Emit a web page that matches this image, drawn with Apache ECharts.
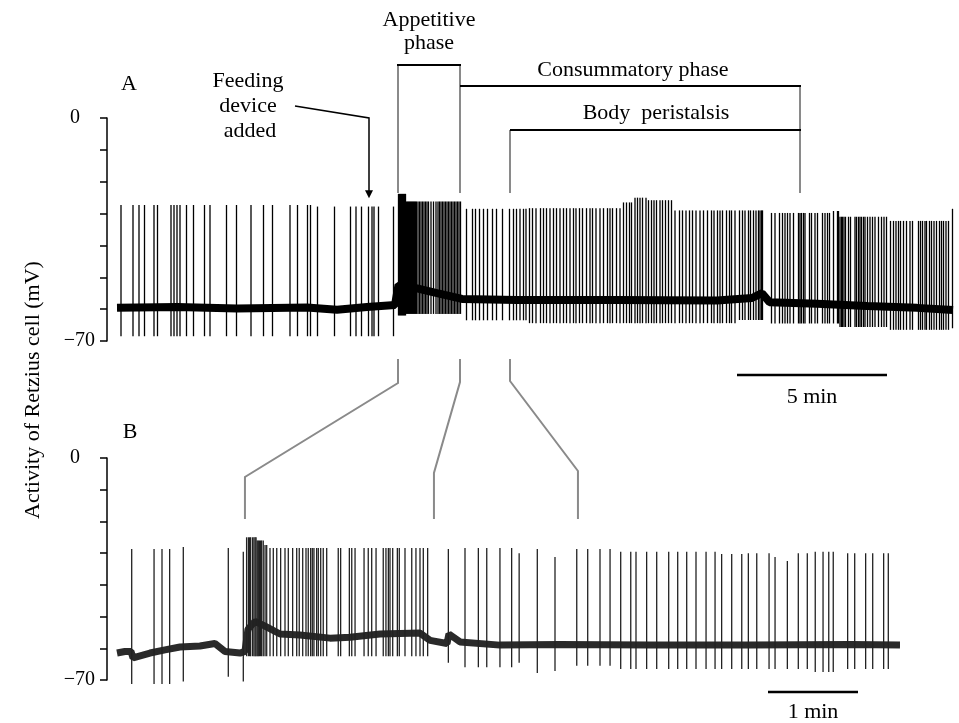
<!DOCTYPE html>
<html><head><meta charset="utf-8">
<script src="https://cdn.jsdelivr.net/npm/echarts/dist/echarts.min.js"></script>
<style>html,body{margin:0;padding:0;background:#fff}#c{width:959px;height:723px}</style>
</head><body><div id="c"></div>
<script>
// ---------- DATA (times in seconds, voltages in mV) ----------
// Panel A: spike times
const spikeTimesA = [8,32,44,55,74,81,108,114,120,126,139,153,175,186,219,239,268,293,311,346,361,381,387,
 401,435,467,478,489,503,510,514,523,553,
 563,565,567,569,571,573,575,577,579,581,583,585,587,589,591,593,595,597,599,602,605,608,611,614,617,620,623,628,633,638,642,645,648,651,654,657,660,663,666,669,672,675,678,681,684,687,
 699,711,717,725,733,741,751,759,771,785,793,799,806,813,
 818,825,831,838,847,853,859,866,873,879,886,893,899,906,913,918,925,931,939,946,951,958,966,973,981,986,991,999,1006,1013,1019,1025,1029,1036,1041,1046,1051,1058,1063,1069,1074,1079,1086,1091,1097,1103,1109,1116,1125,1131,1138,1145,1151,1158,1166,1173,1181,1189,1194,1201,1206,1211,1219,1225,1229,1236,
 1245,1251,1256,1263,1267,1273,1278,1283,1286,1289,1291,1309,1316,1325,1331,1336,1341,1346,1353,1363,1366,1369,1373,1376,1385,1389,1396,1401,1411,1416,1421,1425,1433,1441,1443,1446,1449,1451,1454,1457,1463,1467,1476,1479,1483,1486,1489,1493,1496,1501,1506,1511,1516,1523,1529,1534,1539,1547,1553,1558,1563,1567,1573,1579,1586,1591,1603,1607,1611,1616,1619,1625,1629,1634,1639,1645,1649,1653,1658,1663,1671];
// Panel A: spike peak / trough levels, by segment [start time, peak, trough]
const spikeLevelsA = [[0,-27.3,-68.5],[390,-27.8,-68.5],[560,-23.8,-62],[578,-26.2,-61.5],[690,-28.5,-63.5],[820,-28.3,-64.4],
 [1010,-26.5,-64.4],[1030,-25,-64.4],[1060,-25.8,-64.4],[1115,-29,-64.4],[1240,-29,-63.4],[1300,-29.8,-64.5],
 [1430,-29.2,-64.5],[1445,-31,-65.6],[1540,-32.3,-66.5],[1670,-28.5,-66]];
// Panel A: resting membrane potential
const baselineA = [[0,-59.6],[120,-59.3],[240,-59.8],[380,-59.5],[440,-60.2],[500,-59.3],[556,-58.7],[563,-52.4],[600,-53.5],
 [640,-55],[690,-56.8],[800,-57.1],[1000,-57.1],[1200,-57.3],[1270,-56.5],[1290,-55],[1305,-57.8],[1400,-58.3],
 [1500,-59],[1600,-59.6],[1672,-60.3]];
// Panel B (expanded time base)
const spikeTimesB = [9.8,24.7,30,35.1,44.2,74.2,84.2,
 86.4,87.6,88.4,89.1,90.4,91.3,92.1,92.7,93.5,94.2,94.9,95.7,96.4,97.5,98.7,99.8,
 102,104.2,106.5,109.1,112,114.2,117.1,119.8,121.5,123.8,126,127.5,129.1,130.2,131.3,133.1,134.2,135.8,137.5,139.8,
 147.5,149.1,154.9,156.5,158.7,164.7,167.5,169.8,172.7,177.5,179.3,180.9,182,183.8,186.9,188.2,192,196.5,199.3,202,204.2,207.1,
 220.9,232,240.9,246.5,255.3,263.1,268.1,280.2,292,306.5,313.8,322,328.7,335.8,342.5,346,353.1,359.8,367.8,373.8,379.8,
 386,392.7,398.7,403.1,409.8,416.5,420.9,426.5,434.7,438.7,446.9,454.2,460.2,465.5,470.7,474.5,477.5,487.1,491.8,499.1,503.8,511.1,514.2];
const spikeLevelsB = [[0,-28.7,-71.3],[40,-28.1,-70.5],[70,-28.4,-69],[80,-29.6,-70.5],[85.5,-25,-62.5],[93,-26,-62.5],
 [98,-27.4,-62.5],[101,-28.4,-62.5],[215,-28.7,-64.6],[230,-28.4,-66],[265,-30,-64.6],[275,-28.7,-67.8],[290,-31.2,-67.2],
 [300,-28.7,-65.5],[330,-29.6,-66.5],[400,-30.3,-66.5],[420,-30,-66.5],[436,-31.2,-66.5],[445,-32.5,-66.5],[450,-30,-66.5],
 [465,-29.6,-67.5],[485,-30,-66.5],[515,-30.3,-66]];
const baselineB = [[0,-61.5],[5.3,-61],[9.3,-61],[10.7,-63],[22,-61.5],[32,-60.5],[42,-59.6],[55.3,-59.3],[65.3,-58.5],
 [72,-61],[82,-61.5],[85.3,-61],[87.3,-54],[92,-51.5],[98.7,-53],[108.7,-55.5],[122,-55.8],[142,-56.8],[155.3,-56.5],
 [175.3,-55.5],[202,-55.2],[208.7,-57.5],[220,-58.5],[221.3,-55.5],[228.7,-58],[255.3,-59],[295.3,-58.8],[355.3,-59],
 [422,-59],[488.7,-58.8],[522,-59]];
// Events (s) on panel A and matching times on panel B
const phaseNamesA = ['Feeding device added','Appetitive phase','Consummatory phase','Body peristalsis','End'];
const phaseTimesA = [504, 562, 686, 786, 1366];
const zoomTimesA = [562, 686, 786];
const zoomTimesB = [85.3, 211.3, 307.3];
// Axis ticks and labels
const yTickValues = [0, -70];
const yTickLabels = ['0', '\u221270'];
const panelLabels = ['A', 'B'];
const scaleBarA = {start: 1240, length: 300, label: '5 min'};
const scaleBarB = {start: 434, length: 60, label: '1 min'};
const durationA = 1672, durationB = 522;

// ---------- CHART ----------
const FONT = 'Liberation Serif';
const chart = echarts.init(document.getElementById('c'));
function levelAt(levels, t){ let e = levels[0]; for (const k of levels){ if (k[0] <= t) e = k; else break; } return e; }
function spikeData(times, levels){ return times.map(t => { const e = levelAt(levels, t); return [t, e[1], e[2]]; }); }
function spikeRender(color){
  return function(params, api){
    const a = api.coord([api.value(0), api.value(1)]);
    const b = api.coord([api.value(0), api.value(2)]);
    return {type:'line', shape:{x1:a[0], y1:a[1], x2:b[0], y2:b[1]}, style:{stroke:color, lineWidth:1.3}};
  };
}
function yAxisCfg(gi){
  return {type:'value', gridIndex:gi, min:-70, max:0, interval:10, offset:10,
    axisLine:{show:true, onZero:false, lineStyle:{color:'#000', width:1.5}},
    axisTick:{show:true, length:7, lineStyle:{color:'#000', width:1.5}},
    splitLine:{show:false},
    axisLabel:{margin:12, fontFamily:FONT, fontSize:20, color:'#000',
      rich:{z:{fontFamily:FONT, fontSize:20, color:'#000', padding:[0,15,0,0]}},
      formatter: v => { const i = yTickValues.indexOf(v); if (i < 0) return ''; return v === 0 ? '{z|' + yTickLabels[i] + '}' : yTickLabels[i]; }}};
}
chart.setOption({
  animation:false,
  backgroundColor:'#fff',
  grid:[{left:117, top:118, width:836, height:223}, {left:117, top:458, width:783, height:222}],
  xAxis:[{type:'value', gridIndex:0, min:0, max:durationA, show:false},
         {type:'value', gridIndex:1, min:0, max:durationB, show:false}],
  yAxis:[yAxisCfg(0), yAxisCfg(1)],
  series:[
    {type:'line', xAxisIndex:0, yAxisIndex:0, data:baselineA, showSymbol:false, lineStyle:{color:'#000', width:8}, z:2},
    {type:'custom', xAxisIndex:0, yAxisIndex:0, data:spikeData(spikeTimesA, spikeLevelsA), encode:{x:0, y:[1,2]}, renderItem:spikeRender('#000'), z:3},
    {type:'line', xAxisIndex:1, yAxisIndex:1, data:baselineB, showSymbol:false, lineStyle:{color:'#2a2a2a', width:7}, z:2},
    {type:'custom', xAxisIndex:1, yAxisIndex:1, data:spikeData(spikeTimesB, spikeLevelsB), encode:{x:0, y:[1,2]}, renderItem:spikeRender('#222'), z:3}
  ]
});

// ---------- ANNOTATIONS ----------
const pA = (t, v) => chart.convertToPixel({gridIndex:0}, [t, v]);
const pB = (t, v) => chart.convertToPixel({gridIndex:1}, [t, v]);
function txt(x, y, s, size, rot){
  return {type:'text', x:x, y:y, rotation:rot || 0, z:10,
    style:{text:s, fontFamily:FONT, fontSize:size || 22, fill:'#000', align:'center', verticalAlign:'middle', textAlign:'center', textVerticalAlign:'middle'}};
}
function pl(points, color, w){ return {type:'polyline', z:9, shape:{points:points}, style:{stroke:color, lineWidth:w, fill:null}}; }
const GRAY = '#8a8a8a';
const xF = pA(phaseTimesA[0], 0)[0], xAp = pA(phaseTimesA[1], 0)[0], xCo = pA(phaseTimesA[2], 0)[0],
      xBo = pA(phaseTimesA[3], 0)[0], xEnd = pA(phaseTimesA[4], 0)[0];
const yZeroA = pA(0, 0)[1];
const yArrowEnd = pA(0, -25.2)[1];
const g = [];
// brackets
g.push(pl([[xAp,193],[xAp,65]], GRAY, 2));
g.push(pl([[xCo,193],[xCo,65]], GRAY, 2));
g.push(pl([[xBo,193],[xBo,130]], GRAY, 2));
g.push(pl([[xEnd,193],[xEnd,86]], GRAY, 2));
g.push(pl([[xAp-1,65],[xCo+1,65]], '#000', 2));
g.push(pl([[xCo,86],[xEnd+1,86]], '#000', 2));
g.push(pl([[xBo,130],[xEnd+1,130]], '#000', 2));
// texts
g.push(txt((xAp+xCo)/2, 20, 'Appetitive'));
g.push(txt((xAp+xCo)/2, 43, 'phase'));
g.push(txt(633, 70, 'Consummatory phase'));
g.push(txt(656, 113, 'Body  peristalsis'));
g.push(txt(248, 81, 'Feeding'));
g.push(txt(248, 106, 'device'));
g.push(txt(250, 131, 'added'));
g.push(txt(129, 84, panelLabels[0]));
g.push(txt(130, 432, panelLabels[1]));
g.push(txt(33, 390, 'Activity of Retzius cell (mV)', 22, Math.PI/2));
// feeding arrow
g.push(pl([[295,106],[xF,yZeroA],[xF,yArrowEnd-6]], '#000', 1.5));
g.push({type:'polygon', z:9, shape:{points:[[xF-4,yArrowEnd-8],[xF+4,yArrowEnd-8],[xF,yArrowEnd]]}, style:{fill:'#000'}});
// zoom connectors
const topY = [383, 382, 381], botY = [477, 473, 471];
for (let i = 0; i < zoomTimesA.length; i++){
  const xa = pA(zoomTimesA[i], 0)[0], xb = pB(zoomTimesB[i], 0)[0];
  g.push(pl([[xa,359],[xa,topY[i]],[xb,botY[i]],[xb,519]], GRAY, 2));
}
// scale bars
const sa0 = pA(scaleBarA.start, -80.7), sa1 = pA(scaleBarA.start + scaleBarA.length, -80.7);
g.push(pl([sa0, sa1], '#000', 2.5));
g.push(txt((sa0[0]+sa1[0])/2, sa0[1]+22, scaleBarA.label));
const sb0 = pB(scaleBarB.start, -73.8), sb1 = pB(scaleBarB.start + scaleBarB.length, -73.8);
g.push(pl([sb0, sb1], '#000', 2.5));
g.push(txt((sb0[0]+sb1[0])/2, sb0[1]+20, scaleBarB.label));
chart.setOption({graphic:g});
</script></body></html>
